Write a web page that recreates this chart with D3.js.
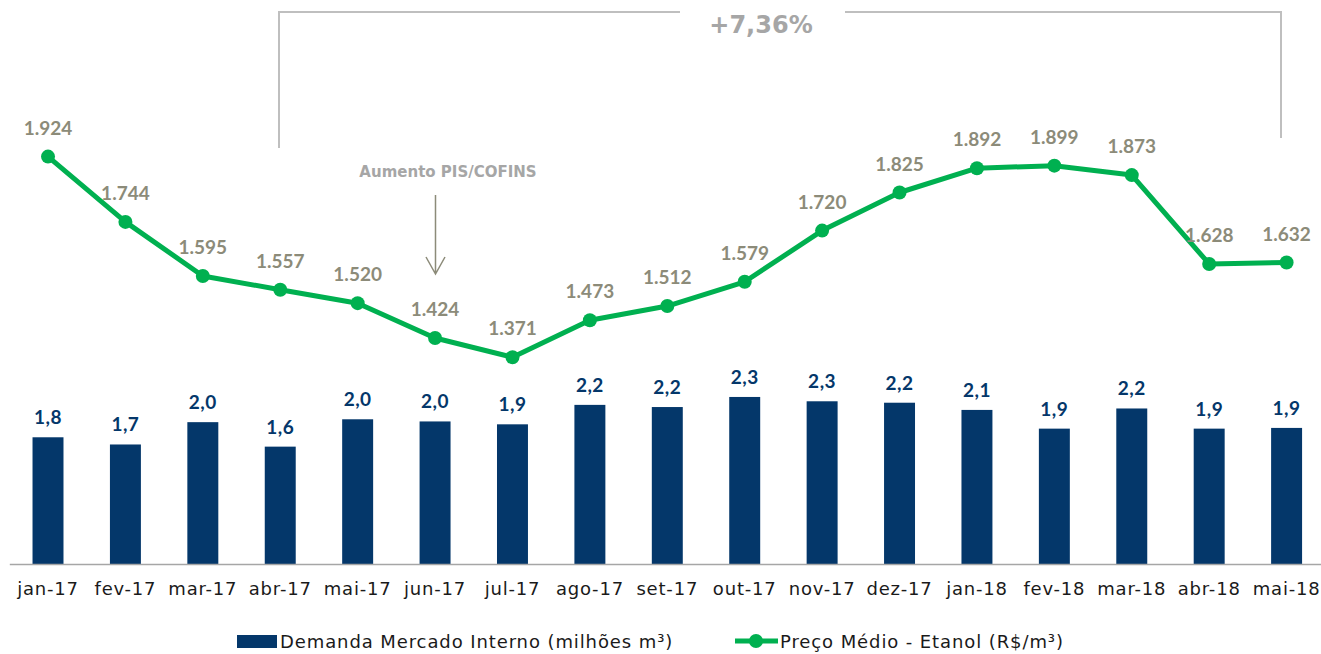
<!DOCTYPE html>
<html>
<head>
<meta charset="utf-8">
<script src="https://cdn.jsdelivr.net/npm/d3@7"></script>
<style>
  body { margin: 0; background: #fff; }
  svg { display: block; font-family: "Lato", "DejaVu Sans", sans-serif; }
</style>
</head>
<body>
<script>
// data
const categories = ['jan-17', 'fev-17', 'mar-17', 'abr-17', 'mai-17', 'jun-17', 'jul-17', 'ago-17', 'set-17',
  'out-17', 'nov-17', 'dez-17', 'jan-18', 'fev-18', 'mar-18', 'abr-18', 'mai-18']
const demanda = [1.76, 1.66, 1.97, 1.63, 2.01, 1.98, 1.94, 2.21, 2.18, 2.32, 2.26, 2.24, 2.14, 1.88, 2.16, 1.88, 1.89]
const preco = [1.924, 1.744, 1.595, 1.557, 1.520, 1.424, 1.371, 1.473, 1.512, 1.579, 1.720, 1.825, 1.892, 1.899, 1.873, 1.628, 1.632]
const legendLabels = ['Demanda Mercado Interno (milhões m³)', 'Preço Médio - Etanol (R$/m³)']
const annotationText = 'Aumento PIS/COFINS'
const changeText = '+7,36%'

const width = 1321
const height = 654
const navy = '#04376a'
const green = '#00b050'
const labelGray = '#8c8b79'
const wideFont = '"DejaVu Sans", sans-serif'

const svg = d3.select('body').append('svg')
  .attr('width', width)
  .attr('height', height)

const x = d3.scaleBand()
  .domain(categories)
  .range([9.3, 1325.3])
  .paddingInner(0.6)
  .paddingOuter(0.3)

const yBar = d3.scaleLinear().domain([0, 3]).range([564, 348])
const yLine = d3.scaleLinear().domain([1.3, 2.0]).range([383, 129])

const fmtBar = d => d3.format('.1f')(d).replace('.', ',')
const fmtLine = d => d3.format('.3f')(d)

// bars
svg.append('g').selectAll('rect')
  .data(demanda)
  .join('rect')
  .attr('x', (d, i) => x(categories[i]))
  .attr('y', d => yBar(d))
  .attr('width', x.bandwidth())
  .attr('height', d => yBar(0) - yBar(d))
  .attr('fill', navy)

svg.append('g').selectAll('text')
  .data(demanda)
  .join('text')
  .attr('x', (d, i) => x(categories[i]) + x.bandwidth() / 2)
  .attr('y', d => yBar(d) - 13)
  .attr('text-anchor', 'middle')
  .attr('font-size', 19)
  .attr('font-weight', 'bold')
  .attr('letter-spacing', 0.5)
  .attr('fill', navy)
  .text(fmtBar)

// x axis
const xAxis = svg.append('g')
  .attr('transform', `translate(0, ${yBar(0)})`)
  .call(d3.axisBottom(x).tickSize(0).tickPadding(18))
xAxis.select('.domain').attr('stroke', '#a6a6a6').attr('stroke-width', 1.5)
xAxis.selectAll('text')
  .attr('font-family', wideFont)
  .attr('font-size', 18)
  .attr('letter-spacing', 0.8)
  .attr('fill', '#1a1a1a')

// line
const cx = (d, i) => x(categories[i]) + x.bandwidth() / 2
const line = d3.line().x(cx).y(d => yLine(d))

svg.append('path')
  .datum(preco)
  .attr('d', line)
  .attr('fill', 'none')
  .attr('stroke', green)
  .attr('stroke-width', 5)
  .attr('stroke-linejoin', 'round')

svg.append('g').selectAll('circle')
  .data(preco)
  .join('circle')
  .attr('cx', cx)
  .attr('cy', d => yLine(d))
  .attr('r', 7)
  .attr('fill', green)

svg.append('g').selectAll('text')
  .data(preco)
  .join('text')
  .attr('x', cx)
  .attr('y', d => yLine(d) - 22)
  .attr('text-anchor', 'middle')
  .attr('font-size', 19)
  .attr('font-weight', 'bold')
  .attr('fill', labelGray)
  .text(fmtLine)

// bracket annotation
const bx0 = 279
const bx1 = 1281
const by = 12
svg.append('path')
  .attr('d', `M${bx0},148 V${by} H680 M845,${by} H${bx1} V138`)
  .attr('fill', 'none')
  .attr('stroke', '#bfbfbf')
  .attr('stroke-width', 2)

svg.append('text')
  .attr('x', 761)
  .attr('y', 33)
  .attr('text-anchor', 'middle')
  .attr('font-family', wideFont)
  .attr('font-size', 24)
  .attr('font-weight', 'bold')
  .attr('fill', '#a6a6a6')
  .text(changeText)

// PIS/COFINS arrow
svg.append('text')
  .attr('x', 448)
  .attr('y', 177)
  .attr('text-anchor', 'middle')
  .attr('font-family', wideFont)
  .attr('font-size', 15)
  .attr('font-weight', 'bold')
  .attr('fill', '#a6a6a6')
  .text(annotationText)

svg.append('path')
  .attr('d', 'M435.5,195 V274 M426,257 L435.5,274 L445,257')
  .attr('fill', 'none')
  .attr('stroke', labelGray)
  .attr('stroke-width', 1.5)

// legend
const legend = svg.append('g')
  .attr('font-family', wideFont)
  .attr('font-size', 18)
  .attr('letter-spacing', 0.9)
  .attr('fill', '#1a1a1a')
legend.append('rect')
  .attr('x', 237).attr('y', 635)
  .attr('width', 40).attr('height', 13)
  .attr('fill', navy)
legend.append('text')
  .attr('x', 280).attr('y', 648)
  .text(legendLabels[0])

legend.append('line')
  .attr('x1', 735).attr('x2', 778)
  .attr('y1', 641).attr('y2', 641)
  .attr('stroke', green).attr('stroke-width', 5)
legend.append('circle')
  .attr('cx', 756).attr('cy', 641).attr('r', 7)
  .attr('fill', green)
legend.append('text')
  .attr('x', 780).attr('y', 648)
  .text(legendLabels[1])
</script>
</body>
</html>
